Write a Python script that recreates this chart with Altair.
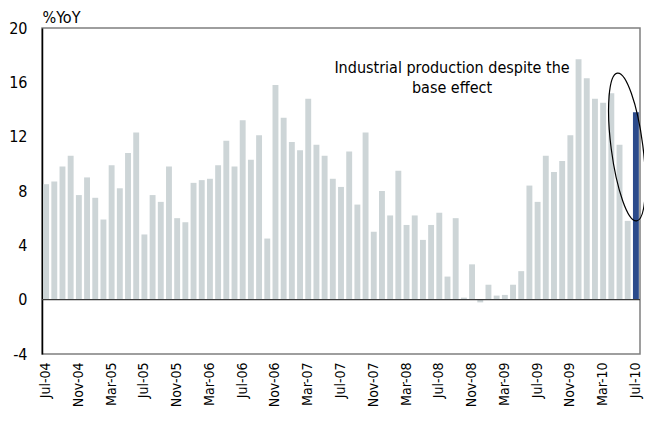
import altair as alt
import pandas as pd

# Monthly periods Jul-04 .. Jul-10
month_abbr = ["Jan", "Feb", "Mar", "Apr", "May", "Jun",
              "Jul", "Aug", "Sep", "Oct", "Nov", "Dec"]
periods = []
for i in range(73):
    m = (6 + i) % 12
    yr = 4 + (6 + i) // 12
    periods.append(f"{month_abbr[m]}-{yr:02d}")

# Industrial production, %YoY
yoy = [
    8.5, 8.7, 9.8, 10.6, 7.7, 9.0, 7.5, 5.9, 9.9, 8.2, 10.8, 12.3,
    4.8, 7.7, 7.2, 9.8, 6.0, 5.7, 8.6, 8.8, 8.9, 9.9, 11.7, 9.8,
    13.2, 10.3, 12.1, 4.5, 15.8, 13.4, 11.6, 11.0, 14.8, 11.4, 10.6, 8.9,
    8.3, 10.9, 7.0, 12.3, 5.0, 8.0, 6.2, 9.5, 5.5, 6.2, 4.4, 5.5,
    6.4, 1.7, 6.0, 0.15, 2.6, -0.2, 1.1, 0.3, 0.35, 1.1, 2.1, 8.4,
    7.2, 10.6, 9.4, 10.2, 12.1, 17.7, 16.3, 14.8, 14.5, 15.2, 11.4, 5.8,
    13.8,
]
series = ["past"] * 72 + ["latest"]

tick_labels = periods[::4]
y_ticks = [-4, 0, 4, 8, 12, 16, 20]
annotation = ["Industrial production despite the", "base effect"]

FONT = "DejaVu Sans Condensed, Liberation Sans Narrow, sans-serif"

W, H = 598, 326

df = pd.DataFrame({"period": periods, "yoy": yoy, "series": series})

bars = alt.Chart(df).mark_bar().encode(
    x=alt.X(
        "period:N", sort=periods,
        scale=alt.Scale(paddingInner=0.28, paddingOuter=0.14),
        axis=alt.Axis(values=tick_labels, labelAngle=270, labelAlign="right",
                      labelBaseline="middle", labelPadding=8, ticks=False,
                      domain=False, title=None, labelFontSize=14,
                      labelColor="black", labelFont=FONT),
    ),
    y=alt.Y(
        "yoy:Q",
        scale=alt.Scale(domain=[-4, 20], nice=False, zero=False),
        axis=alt.Axis(values=y_ticks, ticks=False, grid=False,
                      labelExpr="'' + datum.value",
                      domainColor="black", domainWidth=1.5, labelPadding=15,
                      labelFontSize=16, labelColor="black", labelFont=FONT,
                      title="%YoY", titleAngle=0, titleX=0, titleY=-3,
                      titleAlign="left", titleBaseline="bottom",
                      titleFontWeight="normal", titleFontSize=16,
                      titleFont=FONT, titleColor="black"),
    ),
    color=alt.Color("series:N",
                    scale=alt.Scale(domain=["past", "latest"],
                                    range=["#CDD5D7", "#2B4A8B"]),
                    legend=None),
)

zero = alt.Chart(pd.DataFrame({"y": [0]})).mark_rule(
    color="#3a3a3a", strokeWidth=1.3
).encode(y="y:Q")

note = alt.Chart(pd.DataFrame({"t": [0]})).mark_text(
    font=FONT, fontSize=16, color="black", align="center",
    baseline="alphabetic", lineHeight=20,
).encode(x=alt.value(410), y=alt.value(45), text=alt.value(annotation))

a = 0.213
k = 0.5523 * a
kk = 0.5523
ellipse_path = (
    f"M0,-1 C{k:.4f},-1 {a:.4f},-{kk:.4f} {a:.4f},0 "
    f"C{a:.4f},{kk:.4f} {k:.4f},1 0,1 "
    f"C-{k:.4f},1 -{a:.4f},{kk:.4f} -{a:.4f},0 "
    f"C-{a:.4f},-{kk:.4f} -{k:.4f},-1 0,-1 Z"
)
ellipse = alt.Chart(pd.DataFrame({"t": [0]})).mark_point(
    shape=ellipse_path, size=149 ** 2, angle=352.6, filled=False,
    stroke="black", strokeWidth=1.2, opacity=1,
).encode(x=alt.value(585), y=alt.value(119))

chart = alt.layer(bars, zero, note, ellipse).properties(
    width=W, height=H,
    autosize=alt.AutoSizeParams(type="none"),
    padding={"left": 34, "top": 20, "right": 4, "bottom": 54},
).configure_view(stroke="#7f7f7f", strokeWidth=1.5)

chart.save("out.html", embed_options={"renderer": "svg", "actions": False})
